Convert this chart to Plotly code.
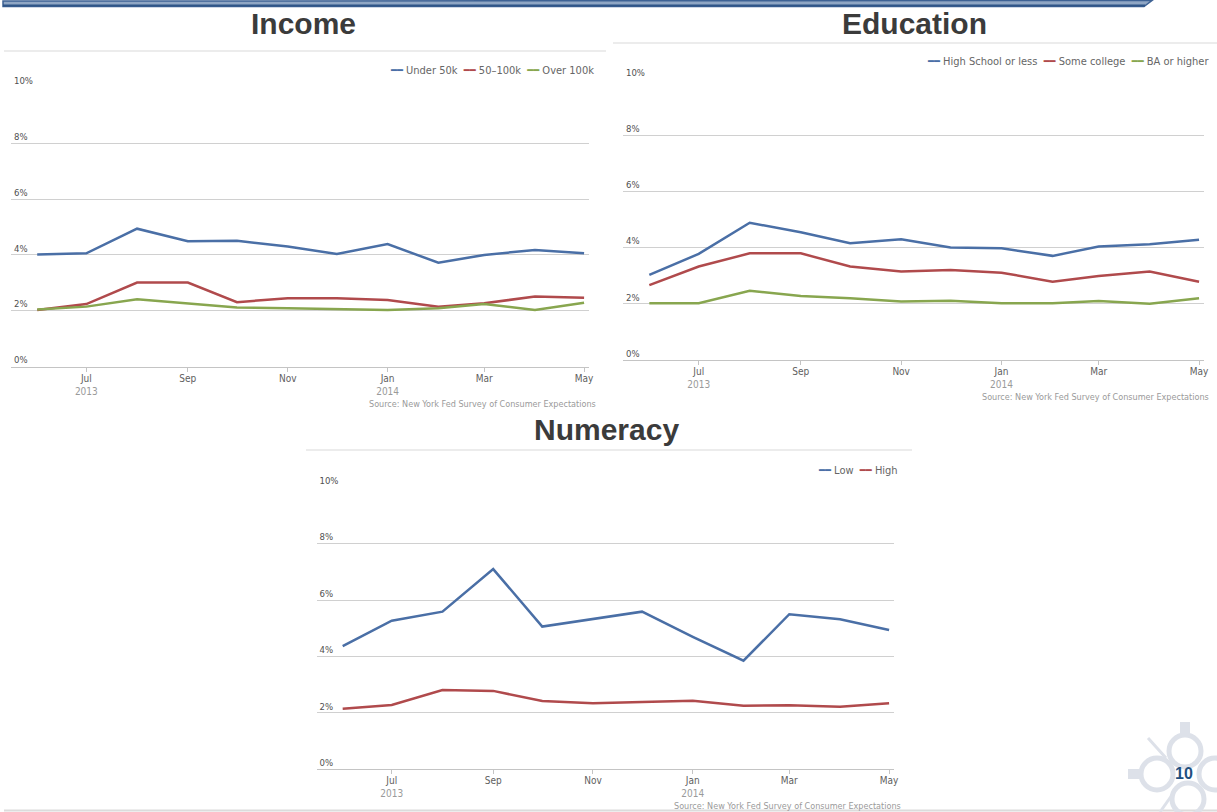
import plotly.graph_objects as go

W, H = 1217, 812

months = ["2013-06-01", "2013-07-01", "2013-08-01", "2013-09-01", "2013-10-01", "2013-11-01",
          "2013-12-01", "2014-01-01", "2014-02-01", "2014-03-01", "2014-04-01", "2014-05-01"]

# Income (percent)
income_under50k = [4.02, 4.06, 4.94, 4.49, 4.51, 4.30, 4.03, 4.39, 3.72, 4.00, 4.18, 4.06]
income_50_100k = [2.03, 2.24, 3.01, 3.01, 2.31, 2.45, 2.45, 2.39, 2.15, 2.27, 2.51, 2.47]
income_over100k = [2.05, 2.15, 2.41, 2.27, 2.12, 2.09, 2.05, 2.03, 2.09, 2.24, 2.03, 2.29]

# Education (percent)
edu_highschool = [3.03, 3.78, 4.89, 4.55, 4.16, 4.30, 4.01, 3.98, 3.71, 4.04, 4.12, 4.28]
edu_somecollege = [2.67, 3.33, 3.80, 3.80, 3.33, 3.15, 3.21, 3.11, 2.79, 2.99, 3.15, 2.79]
edu_ba = [2.02, 2.02, 2.47, 2.28, 2.20, 2.08, 2.11, 2.02, 2.02, 2.10, 2.00, 2.20]

# Numeracy (percent)
num_low = [4.37, 5.27, 5.59, 7.10, 5.06, 5.32, 5.59, 4.70, 3.85, 5.50, 5.32, 4.94]
num_high = [2.15, 2.28, 2.81, 2.78, 2.42, 2.34, 2.39, 2.43, 2.25, 2.27, 2.22, 2.34]

# Axis ticks
x_tickvals = ["2013-07-01", "2013-09-01", "2013-11-01", "2014-01-01", "2014-03-01", "2014-05-01"]
x_month_labels = ["Jul", "Sep", "Nov", "Jan", "Mar", "May"]
x_year_labels = ["2013", "", "", "2014", "", ""]
y_tickvals = [0, 2, 4, 6, 8, 10]
y_ticktext = ["0%", "2%", "4%", "6%", "8%", "10%"]

panel_titles = ["Income", "Education", "Numeracy"]
source_text = "Source: New York Fed Survey of Consumer Expectations"
page_number = "10"

BLUE, RED, GREEN = "#4a6fa6", "#b04a4c", "#88a64f"
NARROW = "Liberation Sans Narrow, DejaVu Sans Condensed, Arial Narrow, sans-serif"
BOLD = "Liberation Sans, Arial, sans-serif"


def px_x(p):
    return p / W


def px_y(p):
    return 1 - p / H


x_ticktext = [m + ("<br><span style='color:#9a9a9a'>" + y + "</span>" if y else "")
              for m, y in zip(x_month_labels, x_year_labels)]

fig = go.Figure()

panels = [
    dict(ax="x", ay="y", xd=(11, 589), yd=(87.3, 366.7),
         series=[("Under 50k", income_under50k, BLUE), ("50–100k", income_50_100k, RED),
                 ("Over 100k", income_over100k, GREEN)],
         leg=(596, 70), title=(303, 23), sep=(4, 606, 51), src=(598, 404)),
    dict(ax="x2", ay="y2", xd=(623, 1204), yd=(79.3, 360),
         series=[("High School or less", edu_highschool, BLUE), ("Some college", edu_somecollege, RED),
                 ("BA or higher", edu_ba, GREEN)],
         leg=(1211, 62), title=(914, 23), sep=(613, 1217, 43), src=(1211, 397)),
    dict(ax="x3", ay="y3", xd=(316.5, 894), yd=(487.3, 769.3),
         series=[("Low", num_low, BLUE), ("High", num_high, RED)],
         leg=(900, 470), title=(606, 430), sep=(306, 912, 450), src=(903, 806)),
]

shapes = []
annotations = []
layout_axes = {}

for i, p in enumerate(panels):
    legend_parts = []
    for name, vals, col in p["series"]:
        fig.add_trace(go.Scatter(
            x=months, y=vals, name=name, mode="lines",
            line=dict(color=col, width=2.5),
            xaxis=p["ax"], yaxis=p["ay"], showlegend=False,
            hovertemplate="%{y:.1f}%<extra>" + name + "</extra>",
        ))
        legend_parts.append("<span style='color:%s'>━━</span> %s" % (col, name))
    xkey = "xaxis" if p["ax"] == "x" else "xaxis" + p["ax"][1:]
    ykey = "yaxis" if p["ay"] == "y" else "yaxis" + p["ay"][1:]
    layout_axes[xkey] = dict(
        domain=[px_x(p["xd"][0]), px_x(p["xd"][1])],
        anchor=p["ay"], type="date",
        range=["2013-05-16", "2014-05-04"],
        tickmode="array", tickvals=x_tickvals, ticktext=x_ticktext,
        showgrid=False, showline=True, linecolor="#c4c4c4", linewidth=1,
        ticks="outside", ticklen=4, tickcolor="#c4c4c4",
        ticklabelstandoff=-2,
        tickfont=dict(family=NARROW, size=10, color="#606060"),
        zeroline=False, fixedrange=True, automargin=False,
    )
    layout_axes[ykey] = dict(
        domain=[px_y(p["yd"][1]), px_y(p["yd"][0])],
        anchor=p["ax"], range=[0, 10],
        tickmode="array", tickvals=y_tickvals, ticktext=y_ticktext,
        ticklabelposition="inside top", ticklabeloverflow="allow",
        showgrid=True, gridcolor="#d0d0d0", gridwidth=1,
        showline=False, zeroline=False, ticks="",
        tickfont=dict(family=NARROW, size=9.5, color="#505050"),
        fixedrange=True, automargin=False,
    )
    # legend (series swatch + name), top-right of each panel
    annotations.append(dict(
        text="  ".join(legend_parts), x=px_x(p["leg"][0]), y=px_y(p["leg"][1]),
        xref="paper", yref="paper", xanchor="right", yanchor="middle", showarrow=False,
        font=dict(family=NARROW, size=11, color="#666666"),
    ))
    annotations.append(dict(
        text="<b>" + panel_titles[i] + "</b>", x=px_x(p["title"][0]), y=px_y(p["title"][1]),
        xref="paper", yref="paper", xanchor="center", yanchor="middle", showarrow=False,
        font=dict(family=BOLD, size=30, color="#3b3b3b"),
    ))
    annotations.append(dict(
        text=source_text, x=px_x(p["src"][0]), y=px_y(p["src"][1]),
        xref="paper", yref="paper", xanchor="right", yanchor="middle", showarrow=False,
        font=dict(family=NARROW, size=9, color="#9a9a9a"),
    ))
    sx0, sx1, sy = p["sep"]
    shapes.append(dict(type="line", xref="paper", yref="paper",
                       x0=px_x(sx0), x1=px_x(sx1), y0=px_y(sy), y1=px_y(sy),
                       line=dict(color="#ececec", width=2)))

# Top decorative bar
shapes.append(dict(type="path", xref="paper", yref="paper",
                   path="M {},{} L {},{} L {},{} L {},{} Z".format(
                       px_x(3), px_y(1), px_x(1152), px_y(0.5), px_x(1144), px_y(6.5), px_x(3), px_y(6.5)),
                   fillcolor="#8fa6c4", line=dict(color="#3e6294", width=1.5)))
shapes.append(dict(type="line", xref="paper", yref="paper",
                   x0=px_x(3), x1=px_x(1145), y0=px_y(5.5), y1=px_y(5.5),
                   line=dict(color="#2f5587", width=2)))
# Bottom rule
shapes.append(dict(type="line", xref="paper", yref="paper",
                   x0=px_x(4), x1=px_x(1217), y0=px_y(810.5), y1=px_y(810.5),
                   line=dict(color="#dcdcdc", width=2)))

# Logo (quatrefoil) bottom right
LOGO = "#dde1e9"
for cx, cy, r in [(1185, 751, 16), (1157, 774, 16), (1188, 799, 16), (1215, 774, 16)]:
    shapes.append(dict(type="circle", xref="paper", yref="paper",
                       x0=px_x(cx - r), x1=px_x(cx + r), y0=px_y(cy + r), y1=px_y(cy - r),
                       line=dict(color=LOGO, width=5)))
shapes.append(dict(type="rect", xref="paper", yref="paper",
                   x0=px_x(1180), x1=px_x(1190), y0=px_y(735), y1=px_y(722),
                   fillcolor=LOGO, line=dict(width=0)))
shapes.append(dict(type="rect", xref="paper", yref="paper",
                   x0=px_x(1128), x1=px_x(1141), y0=px_y(779), y1=px_y(769),
                   fillcolor=LOGO, line=dict(width=0)))
for x0, y0, x1, y1 in [(1148, 738, 1166, 758), (1160, 812, 1172, 795)]:
    shapes.append(dict(type="line", xref="paper", yref="paper",
                       x0=px_x(x0), x1=px_x(x1), y0=px_y(y0), y1=px_y(y1),
                       line=dict(color=LOGO, width=3)))

annotations.append(dict(
    text="<b>" + page_number + "</b>", x=px_x(1184), y=px_y(773),
    xref="paper", yref="paper", xanchor="center", yanchor="middle", showarrow=False,
    font=dict(family=BOLD, size=16, color="#1f4f7f"),
))

fig.update_layout(
    width=W, height=H, autosize=False,
    margin=dict(l=0, r=0, t=0, b=0, pad=0, autoexpand=False),
    paper_bgcolor="white", plot_bgcolor="white",
    showlegend=False,
    shapes=shapes, annotations=annotations,
    **layout_axes,
)

fig.write_html(
    "out.html",
    config=dict(displayModeBar=False, responsive=False),
    post_script="document.body.style.margin='0';document.body.style.overflow='hidden';",
)
